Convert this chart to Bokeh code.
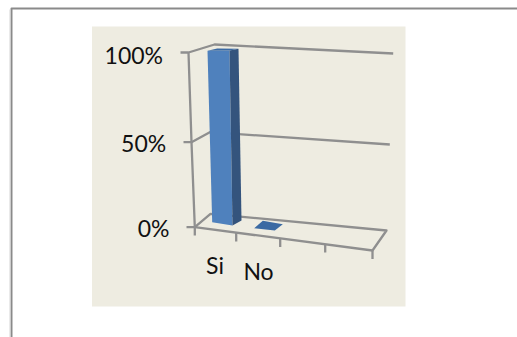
from bokeh.embed import file_html
from bokeh.models import Range1d
from bokeh.plotting import figure
from bokeh.resources import INLINE
from bokeh.core.properties import value

categories = ["Si", "No"]
percentages = [100, 0]
tick_labels = ["100%", "50%", "0%"]

WIDTH, HEIGHT = 517, 337
FONT = value("Lato")
GRID = "#8f8f8f"

# Isometric frame of the 3D column chart, in page pixels (y grows downward)
level_paths = {
    100: [(180, 52), (188, 52), (214, 44), (392.7, 53)],
    50: [(183, 141.7), (191, 141.7), (209.3, 131.7), (389.3, 144)],
    0: [(186, 226.7), (194.3, 226.7), (210, 213.3), (386, 230), (372, 250), (194.3, 226.7)],
}
wall_edge = [(188, 52), (191, 141.7), (194.3, 226.7), (194.3, 235)]
floor_ticks = [((235.7, 232.5), (235.7, 241)), ((279.7, 238), (279.7, 246.5)),
               ((324.7, 244), (324.7, 252)), ((372, 250), (372, 258.5))]

# Column footprints: front-left, front-right, back-right, back-left
footprints = [
    [(211.7, 221.7), (232, 225), (241, 220), (220.7, 216.7)],
    [(253.7, 227.7), (274.3, 230), (282.3, 223.7), (262.3, 220.3)],
]
# Screen displacement of each footprint corner at 100 percent
rise = [(-4.7, -171.4), (-3, -175), (-3, -171.7), (-4, -168.7)]

tick_anchor = [(162.5, 54), (165.7, 142), (169, 227)]
category_anchor = [(214.5, 264.5), (258, 270.5)]

p = figure(width=WIDTH, height=HEIGHT, output_backend="svg", toolbar_location=None,
           x_range=Range1d(0, WIDTH), y_range=Range1d(HEIGHT, 0),
           min_border=0, outline_line_color=None, background_fill_color="white",
           border_fill_color="white")
p.xaxis.visible = False
p.yaxis.visible = False
p.grid.visible = False


def draw_path(points, color=GRID, width=2.3):
    p.line([q[0] for q in points], [q[1] for q in points], line_color=color,
           line_width=width, line_join="round")


# Document frame and chart panel
draw_path([(11, HEIGHT), (11, 8), (WIDTH, 8)], color="#8a8a8a", width=2)
draw_path([(9.3, HEIGHT), (9.3, 9)], color="#e2e2e2", width=1)
p.quad(left=[91.5], right=[405], top=[26], bottom=[306], fill_color="#eeece1", line_color=None)

# Gridlines, wall edge and ticks
for level in level_paths.values():
    draw_path(level)
draw_path(wall_edge)
for tick in floor_ticks:
    draw_path(tick)


def face(points, color):
    p.patch([q[0] for q in points], [q[1] for q in points], fill_color=color, line_color=None)


# Columns: each corner is raised in proportion to its percentage
for base, pct in zip(footprints, percentages):
    top = [(x + dx * pct / 100, y + dy * pct / 100) for (x, y), (dx, dy) in zip(base, rise)]
    if pct > 0:
        face([base[0], base[1], top[1], top[0]], "#4f81bd")
        face([base[1], base[2], top[2], top[1]], "#34547d")
    face(top, "#3b6aa3")

p.text([a[0] for a in tick_anchor], [a[1] for a in tick_anchor], text=tick_labels,
       text_font=FONT, text_font_size="23px", text_color="#111111",
       text_align="right", text_baseline="middle")
p.text([a[0] for a in category_anchor], [a[1] for a in category_anchor], text=categories,
       text_font=FONT, text_font_size="23px", text_color="#111111",
       text_align="center", text_baseline="middle")

open("out.html", "w").write(file_html(p, INLINE))
